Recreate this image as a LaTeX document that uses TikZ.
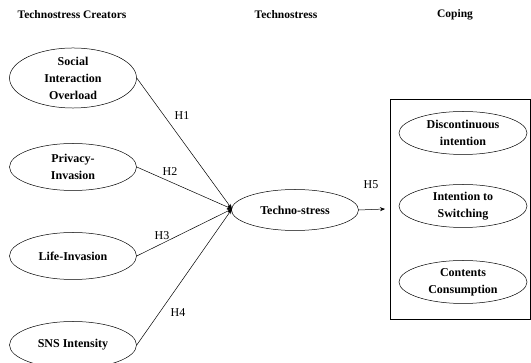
\documentclass[tikz,border=0pt]{standalone}
\usepackage{fontspec}
\setmainfont{Liberation Serif}
\usetikzlibrary{shapes.geometric,arrows.meta}
\begin{document}
\begin{tikzpicture}[x=1pt,y=-1pt,
  ell/.style={draw, ellipse, line width=0.5pt, minimum width=127pt, minimum height=45pt, inner sep=0pt, align=center,
    font=\fontsize{12}{17}\selectfont\bfseries},
  hdr/.style={font=\fontsize{11.5}{14}\selectfont\bfseries},
  hlab/.style={font=\fontsize{12}{14}\selectfont},
  conn/.style={draw, line width=0.5pt, -{Stealth[length=5pt,width=4pt]}}]
\useasboundingbox (0,0) rectangle (531,363);
\clip (0,0) rectangle (531,363);
\node[hdr] (h1) at (72,15) {Technostress Creators};
\node[hdr] (h2) at (286,15) {Technostress};
\node[hdr] (h3) at (455,15) {Coping};

\node[ell, minimum height=44pt] (soc) at (73,78) {Social\\Interaction\\Overload};
\node[ell, minimum height=47pt] (priv) at (73,167) {Privacy-\\Invasion};
\node[ell, minimum height=47pt] (life) at (73,256) {Life-Invasion};
\node[ell, minimum height=47pt] (sns) at (73,345) {SNS Intensity};

\node[ell, minimum height=41pt] (ts) at (295,210) {Techno-stress};

\node[draw, line width=0.5pt, minimum width=140pt, minimum height=220pt, inner sep=0pt] (box) at (460,209) {};
\node[ell, minimum width=128pt, minimum height=43pt] (c1) at (463,133) {Discontinuous\\intention};
\node[ell, minimum width=128pt, minimum height=43pt] (c2) at (463,206) {Intention to\\Switching};
\node[ell, minimum width=128pt, minimum height=43pt] (c3) at (463,282) {Contents\\Consumption};

\coordinate (tip) at (232,209);
\draw[conn] (soc.east) -- (tip);
\draw[conn] (priv.east) -- (tip);
\draw[conn] (life.east) -- (tip);
\draw[conn] (sns.east) -- (tip);
\coordinate (h5end) at (385,209);
\draw[conn] (ts.east) -- (h5end);

\node[hlab] (l1) at (182,116) {H1};
\node[hlab] (l2) at (170,172) {H2};
\node[hlab] (l3) at (162,236) {H3};
\node[hlab] (l4) at (178,313) {H4};
\node[hlab] (l5) at (371,185) {H5};
\end{tikzpicture}
\end{document}
